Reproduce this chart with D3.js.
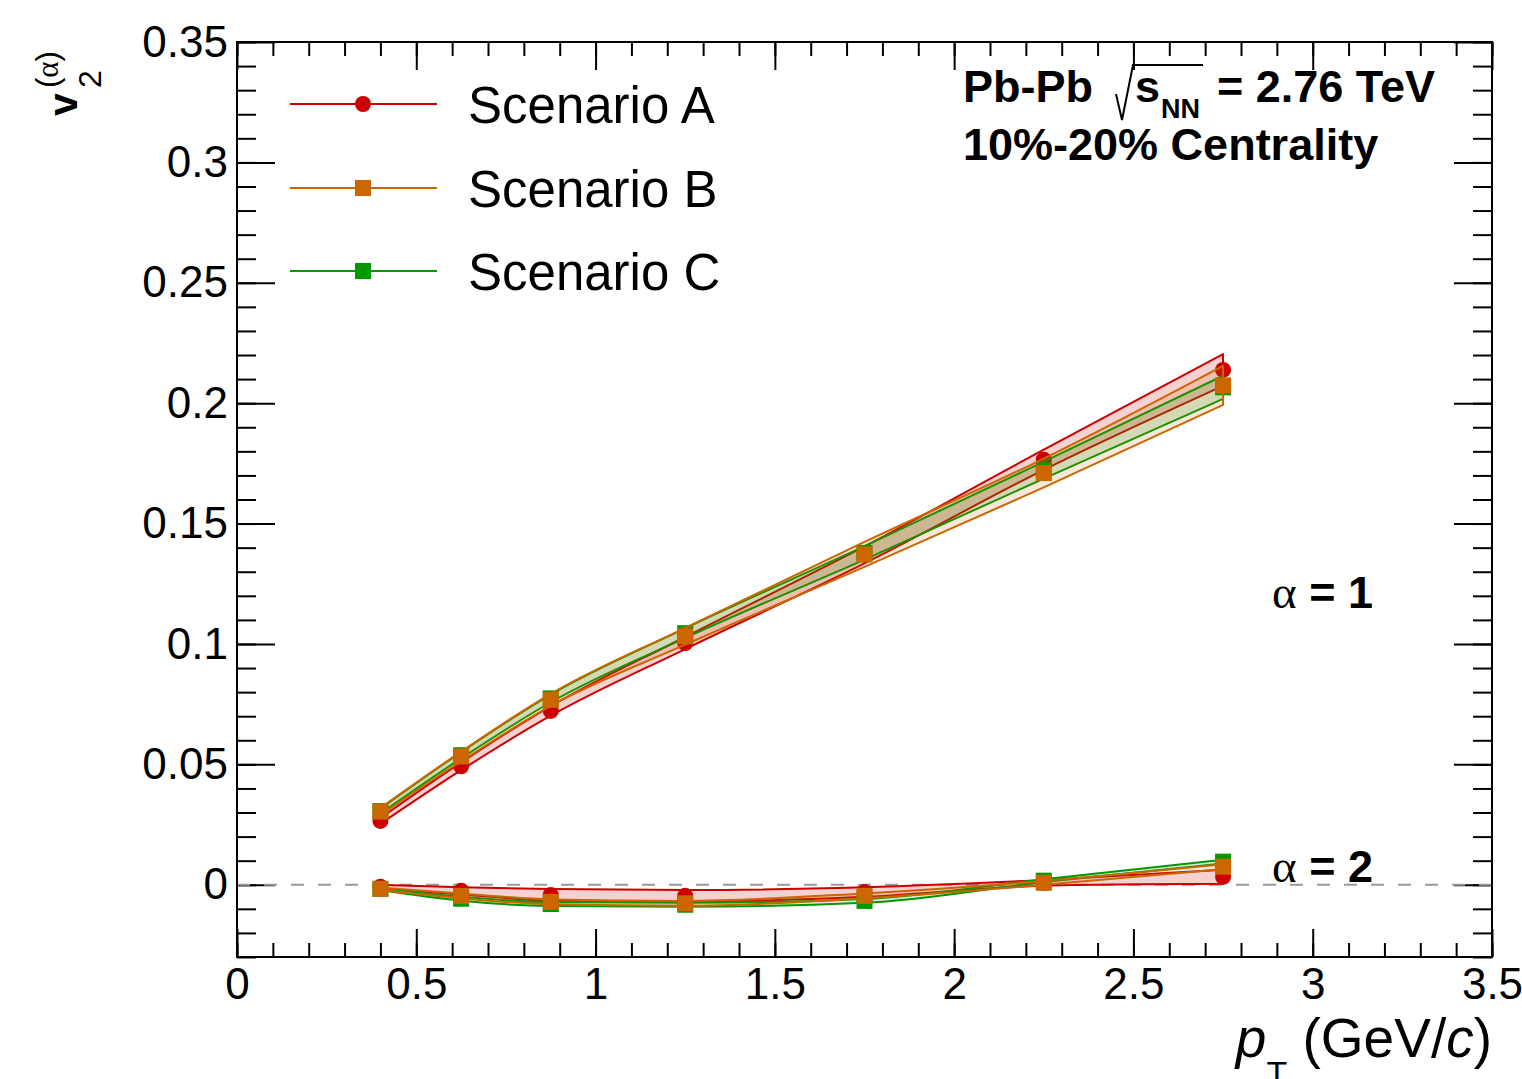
<!DOCTYPE html>
<html>
<head>
<meta charset="utf-8">
<script src="https://cdn.jsdelivr.net/npm/d3@7"></script>
<style>
body { margin: 0; background: #fff; }
text { font-family: 'Liberation Sans', Arial, Helvetica, sans-serif; fill: #000; }
.serif { font-family: 'Liberation Serif', 'DejaVu Serif', serif; }
</style>
</head>
<body>
<div id="chart"></div>
<script>
// pT bin centres (GeV/c)
const ptBins = [0.4, 0.625, 0.875, 1.25, 1.75, 2.25, 2.75]

// alpha = 1
const v2A1 = [0.0265, 0.0492, 0.0722, 0.1004, 0.137, 0.1765, 0.2138]
const errA1 = [0.0012, 0.0016, 0.002, 0.0025, 0.0035, 0.0042, 0.0066]
const v2B1 = [0.0304, 0.0533, 0.0768, 0.1032, 0.1372, 0.171, 0.2074]
const errB1 = [0.0015, 0.002, 0.0025, 0.0035, 0.0052, 0.006, 0.0081]
const v2C1 = [0.0306, 0.0538, 0.0774, 0.1045, 0.1378, 0.1722, 0.2066]
const errC1 = [0.001, 0.0013, 0.0016, 0.002, 0.0028, 0.0035, 0.0048]

// alpha = 2
const v2A2 = [-0.0008, -0.0025, -0.0042, -0.0046, -0.003, 0.0008, 0.0033]
const errA2 = [0.0008, 0.0015, 0.0024, 0.0024, 0.002, 0.0012, 0.0029]
const v2B2 = [-0.0017, -0.0046, -0.0071, -0.0077, -0.0046, 0.0008, 0.0075]
const errB2 = [0.0005, 0.001, 0.001, 0.001, 0.001, 0.0008, 0.001]
const v2C2 = [-0.0017, -0.0058, -0.008, -0.0083, -0.0067, 0.0017, 0.0096]
const errC2 = [0.0005, 0.0008, 0.0008, 0.0008, 0.0008, 0.0006, 0.0008]

const scenarioNames = ['Scenario A', 'Scenario B', 'Scenario C']
const xTicks = [0, 0.5, 1, 1.5, 2, 2.5, 3, 3.5]
const xTickLabels = ['0', '0.5', '1', '1.5', '2', '2.5', '3', '3.5']
const yTicks = [0, 0.05, 0.1, 0.15, 0.2, 0.25, 0.3, 0.35]
const yTickLabels = ['0', '0.05', '0.1', '0.15', '0.2', '0.25', '0.3', '0.35']

let dms = {
    width: 1522,
    height: 1079,
    margin: { top: 42, right: 30, bottom: 122, left: 237 }
}
dms.chartWidth = dms.width - dms.margin.left - dms.margin.right
dms.chartHeight = dms.height - dms.margin.top - dms.margin.bottom

const svg = d3.select('#chart').append('svg')
    .attr('width', dms.width)
    .attr('height', dms.height)

const content = svg.append('g')
    .attr('transform', `translate(${dms.margin.left},${dms.margin.top})`)

const x = d3.scaleLinear().domain([0, 3.5]).range([0, dms.chartWidth])
const y = d3.scaleLinear().domain([-0.03, 0.35]).range([dms.chartHeight, 0])

// axes (ROOT style ticks pointing inward, on all four sides)
const labelFont = 44
const xMinor = d3.range(0, 3.5001, 0.1)
const yMinor = d3.range(-0.03, 0.3501, 0.01).map(d => Math.round(d * 1000) / 1000)

const axBottom = content.append('g').attr('transform', `translate(0,${dms.chartHeight})`)
axBottom.call(d3.axisBottom(x).tickValues(xMinor).tickSizeInner(-14).tickSizeOuter(0).tickFormat(''))
axBottom.append('g').call(d3.axisBottom(x).tickValues(xTicks).tickSizeInner(-28).tickSizeOuter(0)
    .tickPadding(11).tickFormat((d, i) => xTickLabels[i]))

const axTop = content.append('g')
axTop.call(d3.axisTop(x).tickValues(xMinor).tickSizeInner(-14).tickSizeOuter(0).tickFormat(''))
axTop.append('g').call(d3.axisTop(x).tickValues(xTicks).tickSizeInner(-28).tickSizeOuter(0).tickFormat(''))

const axLeft = content.append('g')
axLeft.call(d3.axisLeft(y).tickValues(yMinor).tickSizeInner(-19).tickSizeOuter(0).tickFormat(''))
axLeft.append('g').call(d3.axisLeft(y).tickValues(yTicks).tickSizeInner(-38).tickSizeOuter(0)
    .tickPadding(9).tickFormat((d, i) => yTickLabels[i]))

const axRight = content.append('g').attr('transform', `translate(${dms.chartWidth},0)`)
axRight.call(d3.axisRight(y).tickValues(yMinor).tickSizeInner(-19).tickSizeOuter(0).tickFormat(''))
axRight.append('g').call(d3.axisRight(y).tickValues(yTicks).tickSizeInner(-38).tickSizeOuter(0).tickFormat(''))

content.selectAll('.domain').remove()
content.selectAll('.tick line').attr('stroke', '#000').attr('stroke-width', 2)
content.selectAll('.tick text')
    .style('font-family', "'Liberation Sans', Arial, sans-serif")
    .style('font-size', labelFont + 'px')
    .attr('fill', '#000')

// zero line
content.append('line')
    .attr('x1', x(0)).attr('x2', x(3.5))
    .attr('y1', y(0)).attr('y2', y(0))
    .attr('stroke', '#9a9a9a')
    .attr('stroke-width', 2)
    .attr('stroke-dasharray', '13,14')

// frame
content.append('rect')
    .attr('width', dms.chartWidth)
    .attr('height', dms.chartHeight)
    .attr('fill', 'none')
    .attr('stroke', '#000')
    .attr('stroke-width', 2)

// series
const styles = {
    A: { color: '#cc0000', fillOp: 0.18, marker: 'circle' },
    B: { color: '#cc6600', fillOp: 0.15, marker: 'square' },
    C: { color: '#009900', fillOp: 0.17, marker: 'square' }
}

const area = d3.area()
    .x(d => x(d.pt))
    .y0(d => y(d.v - d.e))
    .y1(d => y(d.v + d.e))
    .curve(d3.curveMonotoneX)

const plotArea = content.append('g')

const drawSeries = (vals, errs, st) => {
    const data = ptBins.map((pt, i) => ({ pt: pt, v: vals[i], e: errs[i] }))
    const g = plotArea.append('g')
    g.append('path')
        .datum(data)
        .attr('d', area)
        .attr('fill', st.color)
        .attr('fill-opacity', st.fillOp)
        .attr('stroke', st.color)
        .attr('stroke-width', 2)
        .attr('stroke-linejoin', 'round')
    if (st.marker === 'circle') {
        g.selectAll('circle').data(data).join('circle')
            .attr('cx', d => x(d.pt))
            .attr('cy', d => y(d.v))
            .attr('r', 8)
            .attr('fill', st.color)
    } else {
        g.selectAll('rect').data(data).join('rect')
            .attr('x', d => x(d.pt) - 8)
            .attr('y', d => y(d.v) - 8)
            .attr('width', 16)
            .attr('height', 16)
            .attr('fill', st.color)
    }
}

drawSeries(v2A1, errA1, styles.A)
drawSeries(v2C1, errC1, styles.C)
drawSeries(v2B1, errB1, styles.B)
drawSeries(v2A2, errA2, styles.A)
drawSeries(v2C2, errC2, styles.C)
drawSeries(v2B2, errB2, styles.B)

// legend
const legendStyles = [styles.A, styles.B, styles.C]
const legendY = [104, 188, 271]
const legend = svg.append('g')
scenarioNames.forEach((name, i) => {
    const st = legendStyles[i]
    const ly = legendY[i]
    legend.append('line')
        .attr('x1', 290).attr('x2', 437)
        .attr('y1', ly).attr('y2', ly)
        .attr('stroke', st.color)
        .attr('stroke-width', 2)
    if (st.marker === 'circle') {
        legend.append('circle').attr('cx', 363).attr('cy', ly).attr('r', 8).attr('fill', st.color)
    } else {
        legend.append('rect').attr('x', 355).attr('y', ly - 8).attr('width', 16).attr('height', 16).attr('fill', st.color)
    }
    legend.append('text')
        .attr('x', 468)
        .attr('y', ly + 19)
        .style('font-size', '51px')
        .text(name)
})

// collision system label
const info = svg.append('g')
info.append('text')
    .attr('x', 963).attr('y', 102)
    .style('font-size', '45px').style('font-weight', 'bold')
    .text('Pb-Pb')
info.append('path')
    .attr('d', 'M1116,94 L1122,120 L1133,65 L1203,65')
    .attr('fill', 'none')
    .attr('stroke', '#000')
    .attr('stroke-width', 2)
info.append('text')
    .attr('x', 1135).attr('y', 102)
    .style('font-size', '45px').style('font-weight', 'bold')
    .text('s')
info.append('text')
    .attr('x', 1161).attr('y', 118)
    .style('font-size', '27px').style('font-weight', 'bold')
    .text('NN')
info.append('text')
    .attr('x', 1217).attr('y', 102)
    .style('font-size', '45px').style('font-weight', 'bold')
    .text('= 2.76 TeV')
info.append('text')
    .attr('x', 963).attr('y', 160)
    .style('font-size', '45px').style('font-weight', 'bold')
    .text('10%-20% Centrality')

// alpha labels
const alphaLabels = [{ t: '1', yv: 0.115 }, { t: '2', yv: 0.0012 }]
alphaLabels.forEach(a => {
    const t = svg.append('text')
        .attr('x', 1272)
        .attr('y', dms.margin.top + y(a.yv))
    t.append('tspan').attr('class', 'serif').style('font-size', '47px').text('α')
    t.append('tspan').style('font-size', '45px').style('font-weight', 'bold').text(' = ' + a.t)
})

// y axis title: v_2^(alpha)
const yTitle = svg.append('g').attr('transform', 'translate(77,42) rotate(-90)')
yTitle.append('text')
    .attr('x', -74).attr('y', 0)
    .style('font-size', '41px').style('font-weight', 'bold')
    .text('v')
yTitle.append('text')
    .attr('x', -46).attr('y', 24)
    .style('font-size', '32px')
    .text('2')
const sup = yTitle.append('text')
    .attr('x', -46).attr('y', -19)
    .style('font-size', '31px')
sup.append('tspan').text('(')
sup.append('tspan').attr('class', 'serif').text('α')
sup.append('tspan').text(')')

// x axis title: p_T (GeV/c)
const xTitle = svg.append('text')
    .attr('x', 1492).attr('y', 1057)
    .attr('text-anchor', 'end')
    .style('font-size', '55px')
xTitle.append('tspan').style('font-style', 'italic').text('p')
xTitle.append('tspan').attr('dy', 28).style('font-size', '34px').text('T')
xTitle.append('tspan').attr('dy', -28).text(' (GeV/')
xTitle.append('tspan').style('font-style', 'italic').text('c')
xTitle.append('tspan').text(')')
</script>
</body>
</html>
